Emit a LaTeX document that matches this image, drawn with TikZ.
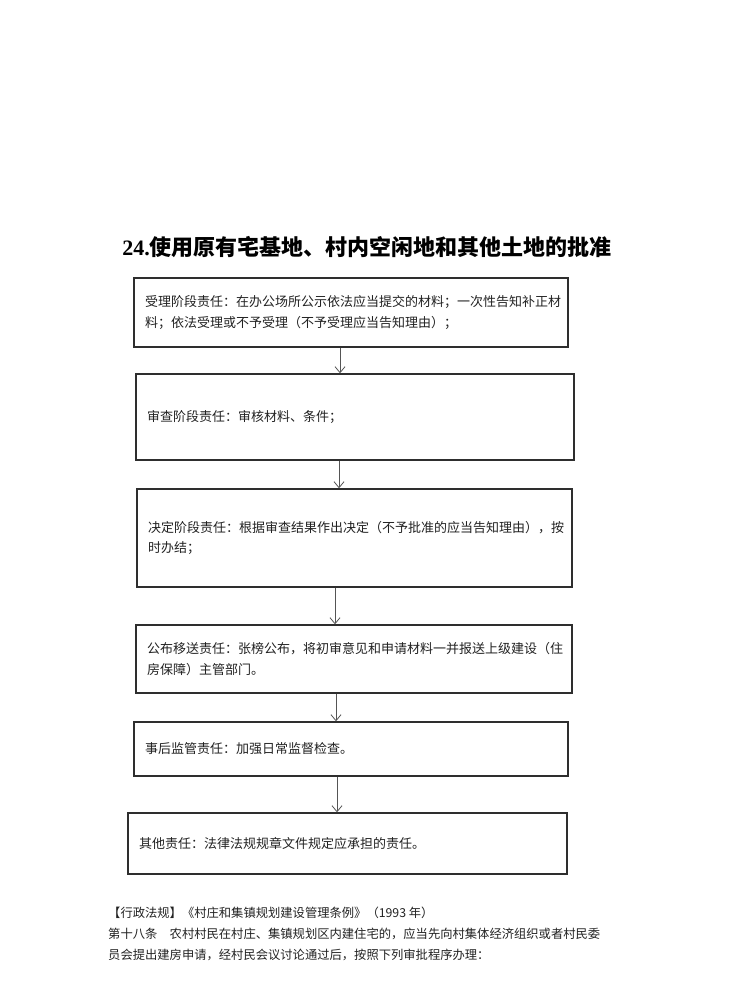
\documentclass[tikz,border=0pt]{standalone}
\usepackage{fontspec}
\setmainfont{Liberation Serif}
\newfontfamily\cjk{Noto Sans CJK SC}
\usetikzlibrary{arrows.meta}
\definecolor{boxline}{HTML}{2E2E2E}
\definecolor{txt}{HTML}{222222}
\definecolor{arrline}{HTML}{555555}
\begin{document}
\begin{tikzpicture}[x=1pt,y=-1pt,
  stagebox/.style={draw=boxline,line width=1.4pt,rectangle,inner xsep=11pt,inner ysep=0pt,
    align=left,text=txt,font=\cjk\fontsize{13}{20.5}\selectfont},
  flowarr/.style={draw=arrline,line width=0.8pt,-{Straight Barb[length=6pt,width=10pt]}},
  lawtext/.style={anchor=west,inner sep=0pt,text=txt,font=\cjk\fontsize{12.3}{14}\selectfont}]
\useasboundingbox[fill=white] (0,0) rectangle (730,987);

\node[inner sep=0pt,text=black] (title) at (367,247)
  {\fontsize{22}{26}\selectfont\bfseries 24.{\cjk\bfseries 使用原有宅基地、村内空闲地和其他土地的批准}};

\node[stagebox,minimum width=434pt,minimum height=69pt,text width=412pt] (b1) at (351,312.5)
  {受理阶段责任：在办公场所公示依法应当提交的材料；一次性告知补正材\\料；依法受理或不予受理（不予受理应当告知理由）；};
\node[stagebox,minimum width=438pt,minimum height=86pt,text width=416pt] (b2) at (355,417)
  {审查阶段责任：审核材料、条件；};
\node[stagebox,minimum width=435pt,minimum height=98pt,text width=413pt] (b3) at (354.5,538)
  {决定阶段责任：根据审查结果作出决定（不予批准的应当告知理由），按\\时办结；};
\node[stagebox,minimum width=436pt,minimum height=68pt,text width=414pt] (b4) at (354,659)
  {公布移送责任：张榜公布，将初审意见和申请材料一并报送上级建设（住\\房保障）主管部门。};
\node[stagebox,minimum width=434pt,minimum height=54pt,text width=412pt] (b5) at (351,749)
  {事后监管责任：加强日常监督检查。};
\node[stagebox,minimum width=439pt,minimum height=61pt,text width=417pt] (b6) at (347.5,843.5)
  {其他责任：法律法规规章文件规定应承担的责任。};

\coordinate (x1) at (340,0);
\coordinate (x2) at (339,0);
\coordinate (x3) at (335,0);
\coordinate (x4) at (336,0);
\coordinate (x5) at (337,0);
\draw[flowarr] (b1.south -| x1) -- (b2.north -| x1);
\draw[flowarr] (b2.south -| x2) -- (b3.north -| x2);
\draw[flowarr] (b3.south -| x3) -- (b4.north -| x3);
\draw[flowarr] (b4.south -| x4) -- (b5.north -| x4);
\draw[flowarr] (b5.south -| x5) -- (b6.north -| x5);

\node[lawtext] (l1) at (108,913) {【行政法规】《村庄和集镇规划建设管理条例》（1993 年）};
\node[lawtext] (l2) at (108,934) {第十八条　农村村民在村庄、集镇规划区内建住宅的，应当先向村集体经济组织或者村民委};
\node[lawtext] (l3) at (108,955) {员会提出建房申请，经村民会议讨论通过后，按照下列审批程序办理：};
\end{tikzpicture}
\end{document}
